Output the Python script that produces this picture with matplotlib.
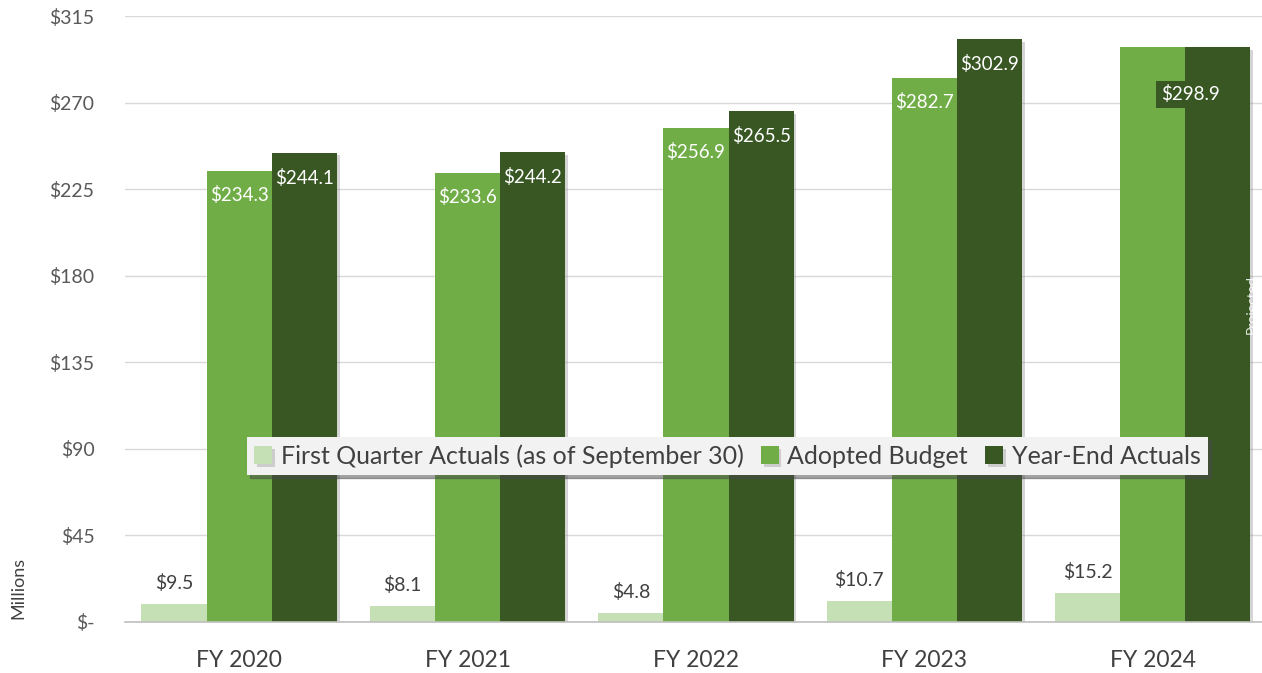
import numpy as np
import matplotlib
matplotlib.use('Agg')
import matplotlib.pyplot as plt
from matplotlib import patheffects as pe

plt.rcParams['font.family'] = ['Lato', 'DejaVu Sans']

years = ['FY 2020', 'FY 2021', 'FY 2022', 'FY 2023', 'FY 2024']
first_quarter = [9.5, 8.1, 4.8, 10.7, 15.2]
adopted = [234.3, 233.6, 256.9, 282.7, 298.9]
year_end = [244.1, 244.2, 265.5, 302.9, 298.9]
yticks = [0, 45, 90, 135, 180, 225, 270, 315]

c_light = '#c5e0b4'
c_mid = '#70ad47'
c_dark = '#385723'

fig = plt.figure(figsize=(12.62, 6.73), dpi=100)
ax = fig.add_axes([0.099, 0.0758, 0.905, 0.9002])

x = np.arange(len(years))
w = 0.285
shadow = [pe.SimplePatchShadow(offset=(2, -2), shadow_rgbFace='#888888', alpha=0.35), pe.Normal()]

b1 = ax.bar(x - w, first_quarter, w, color=c_light, label='First Quarter Actuals (as of September 30)', zorder=3)
b2 = ax.bar(x, adopted, w, color=c_mid, label='Adopted Budget', zorder=3)
b3 = ax.bar(x + w, year_end, w, color=c_dark, label='Year-End Actuals', zorder=4)
for bars in (b1, b2, b3):
    for p in bars:
        p.set_path_effects(shadow)

for i in range(len(years)):
    ax.text(x[i] - w, first_quarter[i] + 11, '$%.1f' % first_quarter[i], ha='center', va='center',
            fontsize=14, color='#404040', zorder=6)
    if i < len(years) - 1:
        ax.text(x[i], adopted[i] - 12.5, '$%.1f' % adopted[i], ha='center', va='center',
                fontsize=13.5, color='white', zorder=6)
        ax.text(x[i] + w, year_end[i] - 13, '$%.1f' % year_end[i], ha='center', va='center',
                fontsize=13.5, color='white', zorder=6)
    else:
        ax.text(x[i] + w - 0.12, year_end[i] - 24.5, '$%.1f' % year_end[i], ha='center', va='center',
                fontsize=13.5, color='white', zorder=6,
                bbox=dict(boxstyle='square,pad=0.25', fc=c_dark, ec='none'))

ax.text(x[-1] + 1.5 * w + 0.004, 165, 'Projected', rotation=90, ha='center', va='center',
        fontsize=10, color='white', alpha=0.85, zorder=6)

ax.set_xlim(-0.5, 4.5)
ax.set_ylim(0, 315)
ax.set_yticks(yticks)
ax.set_yticklabels(['$-' if v == 0 else '$%d' % v for v in yticks])
ax.set_xticks(x)
ax.set_xticklabels(years)
ax.tick_params(axis='y', length=0, labelsize=14, labelcolor='#595959', pad=22)
ax.tick_params(axis='x', length=0, labelsize=16.5, labelcolor='#404040', pad=20)

ax.grid(axis='y', color='#d9d9d9', linewidth=1, zorder=0)
for s in ['top', 'right', 'left']:
    ax.spines[s].set_visible(False)
ax.spines['bottom'].set_color('#bfbfbf')
ax.spines['bottom'].set_linewidth(1.2)
ax.spines['bottom'].set_zorder(5)

fig.text(0.0143, 0.126, 'Millions', rotation=90, ha='center', va='center', fontsize=13, color='#404040')

leg = ax.legend(loc='center', bbox_to_anchor=(0.5765, 0.3224), bbox_transform=fig.transFigure,
                ncol=3, fontsize=18, frameon=True, fancybox=False, shadow=True,
                handlelength=0.7, handleheight=0.7, handletextpad=0.35, columnspacing=0.7,
                borderpad=0.3, labelcolor='#404040')
leg.get_frame().set_facecolor('#f2f2f2')
leg.get_frame().set_edgecolor('none')
leg.get_frame().set_alpha(1)
leg.set_zorder(10)

fig.savefig('out.png', dpi=100)
